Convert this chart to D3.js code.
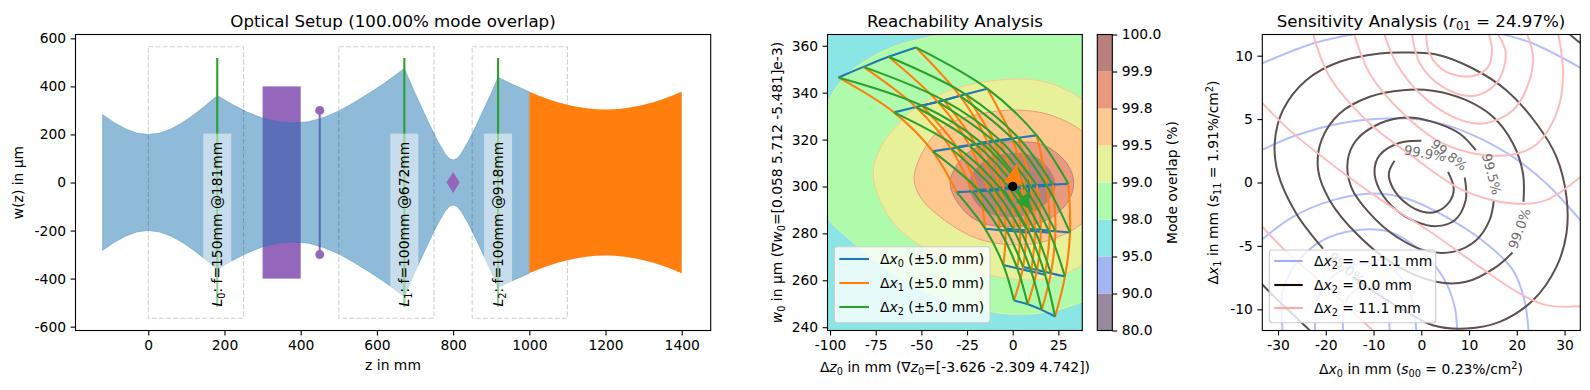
<!DOCTYPE html>
<html>
<head>
<meta charset="utf-8">
<script src="https://cdn.jsdelivr.net/npm/d3@7"></script>
<style>
  html, body { margin: 0; padding: 0; background: #fff; }
  text { font-family: "DejaVu Sans", sans-serif; white-space: pre; }
</style>
</head>
<body>
<svg id="chart" width="1590" height="390"></svg>
<script>
// ---- optical setup: beam radius w(z), upper edge (the lower edge mirrors it)
const beamZ = [-120, -90, -60, -30, 0, 30, 60, 90, 120, 150, 181, 220, 260, 300, 340, 380, 420, 460, 500, 540, 580, 620, 672,
    700, 720, 740, 760, 780, 790, 800, 810, 820, 840, 860, 880, 900, 918, 950, 1000];
const beamW = [283, 250, 224, 206, 200, 206, 224, 250, 283, 320, 362, 326, 293, 268, 253, 248, 253, 271, 298, 333, 372, 414, 475,
    373, 304, 236, 172, 118, 100, 94, 100, 118, 172, 236, 304, 373, 438, 413, 378];
const targetZ = [1000, 1050, 1100, 1150, 1200, 1250, 1300, 1350, 1400];
const targetW = [378, 347, 324, 309, 304, 309, 324, 347, 378];
const lensZ = [181, 672, 918];
const lensF = ["150", "100", "100"];
const lensHalfHeight = 518;
const rangeStart = [0, 500, 850];
const rangeEnd = [250, 750, 1100];
const rangeHalfHeight = 565;
const crystalZ = [300, 400];
const crystalW = 400;
const apertureZ = 450;
const apertureW = 300;
const waistMarkZ = 800;
const setupXTicks = [0, 200, 400, 600, 800, 1000, 1200, 1400];
const setupYTicks = [-600, -400, -200, 0, 200, 400, 600];

// ---- reachability: overlap regions [dz0, w0]
const region98 = [[-39.8, 364.6], [-67.1, 359.0], [-89.0, 348.8], [-100.0, 337.7], [-109.1, 312.7], [-101.4, 287.1], [-89.0, 277.2],
    [-70.8, 265.8], [-41.6, 253.1], [-12.4, 246.7], [2.2, 245.5], [20.4, 246.7], [38.1, 250.9], [66.0, 263.0], [84.3, 294.2],
    [75.2, 329.8], [47.8, 365.3], [2.2, 370.9]];
const region99 = [[-76.3, 307.0], [-70.8, 318.7], [-63.5, 325.8], [-56.2, 331.7], [-34.3, 341.1], [0.4, 345.8], [20.4, 344.0], [38.1, 336.9],
    [56.9, 319.8], [62.4, 299.9], [55.1, 280.0], [38.1, 266.6], [20.4, 260.9], [2.2, 260.4], [-16.1, 263.0], [-43.4, 271.5],
    [-63.5, 282.9], [-73.5, 295.7]];
const region995 = [[-54.0, 304.2], [-45.2, 319.8], [-34.3, 326.9], [-16.1, 331.2], [2.2, 332.6], [20.4, 330.5], [38.1, 323.4],
    [49.6, 311.3], [49.6, 295.7], [38.1, 284.3], [20.4, 277.2], [2.2, 275.1], [-19.7, 277.9], [-39.8, 287.1], [-50.7, 295.7]];
const region998 = [[-34.3, 301.5], [-27.0, 312.7], [-16.1, 317.7], [4.0, 319.0], [16.8, 317.7], [29.6, 309.9], [33.4, 301.3],
    [29.6, 292.8], [18.6, 285.7], [2.2, 282.9], [-16.1, 284.3], [-27.0, 290.0]];
const region999 = [[-23.9, 301.3], [-17.9, 309.2], [-6.9, 313.4], [4.0, 314.1], [15.0, 311.3], [23.2, 301.3], [19.5, 294.2],
    [11.3, 289.3], [0.4, 287.1], [-12.4, 288.6], [-19.7, 292.8]];

// lattice of reachable settings, one row per (dx1 step + dx2 step)
const rowStart = [0, 0, 0, 0, 1, 2, 3];
const rowZ = [
    [-95.4, -81.7, -68.0, -53.0],
    [-63.4, -51.4, -39.4, -27.4, -15.5],
    [-40.6, -30.6, -20.4, -10.3, -0.1, 9.9],
    [-25.9, -17.2, -8.6, 0, 8.4, 17.1, 25.7],
    [-11.9, -3.9, 4.1, 12.2, 20.2, 28.2],
    [-3.5, 4.1, 11.7, 19.3, 27.0],
    [0.7, 8.2, 15.9, 23.2]
];
const rowW = [
    [346.5, 351.0, 355.3, 359.3],
    [331.9, 334.2, 336.4, 339.0, 341.4],
    [315.6, 316.8, 318.1, 319.2, 320.2, 321.2],
    [298.5, 298.8, 299.1, 299.4, 299.6, 299.9, 300.2],
    [282.6, 282.0, 281.5, 280.9, 280.3, 279.8],
    [266.8, 265.4, 264.1, 262.7, 261.3],
    [251.4, 249.8, 247.4, 244.5]
];
// shift of a node by (dx2 step - dx1 step), the lattice is not quite flat
const rowSkewW = [-0.9, -0.6, -0.3, 0, 0.3, 0.6, 0.9];
const rowSkewZ = [-4.8, -3.2, -1.6, 0, 1.6, 3.2, 4.8];
const orangeTip = [2.2, 309.2];
const greenTip = [10.4, 290.0];
const blueStem = [[8.9, 303], [8.9, 295]];
const reachXTicks = [-100, -75, -50, -25, 0, 25];
const reachYTicks = [240, 260, 280, 300, 320, 340, 360];
const overlapLevels = ["80.0", "90.0", "95.0", "98.0", "99.0", "99.5", "99.8", "99.9", "100.0"];
const overlapColors = ["#98899f", "#a3b5f2", "#89e6e5", "#aefbab", "#e6f199", "#fdc98f", "#e99a7e", "#b97f7c"];

// ---- sensitivity: contour lines [dx0, dx1]
const black999 = [[-5.6, 1.71], [-6.8, 0.71], [-5.9, -0.47], [-3.1, -1.66], [0.3, -2.31], [3.1, -2.31], [5.9, -1.52], [6.8, -0.47], [5.6, 0.84]];
const black998 = [[0, 3.29], [-4.5, 3.13], [-8.7, 2.16], [-9.8, 0.97], [-8.7, -0.60], [-5.2, -2.18], [-1.0, -3.10], [3.1, -3.44], [7.0, -2.97], [9.3, -1.39], [9.1, 0.39]];
const black995 = [[11.4, 2.55], [8.0, 3.86], [2.4, 4.78], [-3.1, 5.13], [-8.7, 4.65], [-13.6, 3.34], [-15.4, 1.76], [-14.7, -0.34], [-10.8, -2.44],
    [-5.2, -4.28], [1.0, -5.39], [6.6, -5.47], [11.5, -4.55], [14.3, -2.97], [15.2, -1.39]];
const black990 = [[21.4, -1.52], [21.3, 0.71], [19.2, 3.08], [15.0, 5.18], [9.4, 6.49], [2.4, 7.23], [-3.8, 7.28], [-10.8, 6.76], [-17.1, 5.44],
    [-20.9, 3.34], [-21.6, 0.97], [-19.2, -1.39], [-13.6, -4.02], [-5.9, -6.39], [3.1, -7.83], [9.4, -7.83], [15.7, -6.65], [19.1, -5.52]];
const black980 = [[-20.6, -5.21], [-26.2, -2.44], [-30.0, 0.71], [-30.7, 3.08], [-29.0, 5.70], [-24.1, 8.07], [-17.1, 9.52], [-8.7, 10.17], [-3.1, 10.25],
    [3.8, 10.04], [10.8, 8.99], [17.8, 7.28], [24.1, 4.65], [28.3, 2.02], [30.4, -1.13], [30.4, -4.02], [28.3, -6.65], [23.4, -9.28], [16.4, -10.99],
    [9.4, -11.51], [2.4, -11.25], [-3.1, -10.20], [-9.4, -8.75], [-14.3, -7.44]];
const blackCornerTop = [[30.4, 11.88], [31.1, 11.67], [33.2, 11.04], [34.2, 10.83]];
const blackCornerBottom = [[-34.2, -7.70], [-29.7, -9.41], [-23.4, -11.65], [-22.7, -11.91]];
const blueLines = [
    [[-34.2, 9.25], [-22.7, 10.96], [-13.6, 11.75], [1.7, 13.07], [16.4, 11.75], [23.4, 10.96], [34.2, 8.86]],
    [[-34.2, 2.42], [-26.2, 3.73], [-17.1, 4.65], [-7.3, 5.05], [1.7, 4.86], [10.1, 3.86], [19.2, 2.02], [26.2, -0.08], [34.2, -3.36]],
    [[-34.2, -4.76], [-26.9, -2.71], [-18.5, -1.39], [-10.1, -0.87], [-3.1, -1.26], [5.2, -2.71], [13.6, -4.81], [19.2, -6.91], [21.6, -9.28], [22.5, -11.91]],
    [[-29.0, -11.91], [-29.0, -8.49], [-26.2, -6.39], [-20.6, -4.55], [-13.6, -3.76], [-6.6, -3.89], [-0.3, -5.34], [4.5, -7.44], [7.0, -9.81], [7.5, -11.91]],
    [[-22.3, -11.91], [-21.3, -8.75], [-17.8, -7.18], [-12.2, -6.39], [-5.9, -6.91], [-2.4, -8.75], [-1.0, -11.91]],
    [[-16.4, -11.91], [-15.7, -9.28], [-12.2, -8.23], [-8.0, -9.02], [-6.6, -11.91]]
];
const redLines = [
    [[1.0, 11.88], [1.7, 10.17], [5.2, 8.73], [10.8, 8.39], [14.0, 9.12], [14.8, 10.44], [14.0, 11.88]],
    [[-2.0, 11.88], [-0.3, 9.38], [4.5, 7.54], [10.8, 6.83], [15.7, 7.81], [17.7, 10.17], [15.7, 11.88]],
    [[-7.9, 11.88], [-5.2, 9.38], [-0.3, 7.02], [6.6, 5.18], [12.9, 4.65], [19.2, 5.70], [22.7, 8.07], [23.4, 9.91], [22.0, 11.88]],
    [[-14.2, 11.88], [-10.8, 8.60], [-3.8, 5.44], [4.5, 3.08], [15.7, 2.10], [23.4, 2.81], [28.3, 5.44], [29.7, 8.60], [28.6, 11.88]],
    [[-22.8, 11.88], [-19.2, 8.33], [-10.8, 4.65], [-1.7, 2.02], [8.7, -0.60], [19.2, -1.66], [26.2, -1.39], [34.2, 0.71]],
    [[-34.2, 6.62], [-27.6, 4.13], [-17.1, 0.97], [-7.3, -1.66], [2.4, -4.02], [12.2, -6.65], [20.6, -8.75], [26.2, -9.67], [34.2, -9.75]],
    [[-34.2, -3.10], [-28.6, -5.34], [-20.6, -7.97], [-11.0, -11.38], [-9.4, -11.91]]
];
const contourLabels = ["98.0%", "99.5%", "99.0%", "99.8%", "99.9%"];
const contourLabelX = [-15.7, 14.7, 20.6, 5.8, 0.7];
const contourLabelY = [-6.78, 0.66, -3.63, 2.16, 2.29];
const contourLabelAngle = [40, 75, -70, 38, 10];
const sensXTicks = [-30, -20, -10, 0, 10, 20, 30];
const sensYTicks = [-10, -5, 0, 5, 10];

const FONT = 13.89, TITLE = 16.67;
const TOP = 34.5, BOTTOM = 330.5;
const svg = d3.select("#chart");

function richText(sel, parts) {
    let shift = 0;
    parts.forEach(function([str, kind]) {
        const want = kind === "sub" ? 3.2 : kind === "sup" ? -5 : 0;
        const ts = sel.append("tspan").text(str).attr("dy", want - shift);
        shift = want;
        if (kind === "sub" || kind === "sup") ts.attr("font-size", "0.7em");
        if (kind === "i") ts.attr("font-style", "italic");
    });
    return sel;
}

function setupAxes(id, left, right, xDomain, yDomain, xTicks, yTicks) {
    const x = d3.scaleLinear().domain(xDomain).range([left, right]);
    const y = d3.scaleLinear().domain(yDomain).range([BOTTOM, TOP]);
    svg.append("clipPath").attr("id", id).append("rect")
        .attr("x", left).attr("y", TOP).attr("width", right - left).attr("height", BOTTOM - TOP);
    const plot = svg.append("g").attr("clip-path", "url(#" + id + ")");
    return {x, y, plot, left, right, xTicks, yTicks};
}

function finishAxes(a) {
    svg.append("rect").attr("x", a.left).attr("y", TOP).attr("width", a.right - a.left).attr("height", BOTTOM - TOP)
        .attr("fill", "none").attr("stroke", "#000").attr("stroke-width", 1.1);
    const bottom = svg.append("g").attr("transform", "translate(0," + BOTTOM + ")")
        .call(d3.axisBottom(a.x).tickValues(a.xTicks).tickFormat(String).tickSize(4.9).tickPadding(4.5));
    const leftAxis = svg.append("g").attr("transform", "translate(" + a.left + ",0)")
        .call(d3.axisLeft(a.y).tickValues(a.yTicks).tickFormat(String).tickSize(4.9).tickPadding(4.5));
    [bottom, leftAxis].forEach(function(g) {
        g.select(".domain").remove();
        g.selectAll("text").attr("font-size", FONT).attr("font-family", "DejaVu Sans").attr("fill", "#000");
        g.selectAll("line").attr("stroke", "#000").attr("stroke-width", 1.1);
    });
}

function label(x, y, parts, size, rotate) {
    const t = svg.append("text").attr("text-anchor", "middle").attr("font-size", size).attr("fill", "#000")
        .attr("transform", "translate(" + x + "," + y + ")" + (rotate ? " rotate(" + rotate + ")" : ""));
    return richText(t, parts);
}

function drawLegend(a, box, lineX, rows) {
    a.legend = svg.append("g");
    a.legend.append("rect").attr("x", box[0]).attr("y", box[1]).attr("width", box[2]).attr("height", box[3])
        .attr("rx", 3).attr("fill", "#fff").attr("fill-opacity", 0.8).attr("stroke", "#ccc").attr("stroke-width", 1.1);
    rows.forEach(function(row) {
        a.legend.append("line").attr("x1", lineX[0]).attr("x2", lineX[1]).attr("y1", row.y).attr("y2", row.y)
            .attr("stroke", row.color).attr("stroke-width", 2.1);
        const t = a.legend.append("text").attr("x", lineX[2]).attr("y", row.y + 5).attr("font-size", FONT).attr("fill", "#000");
        richText(t, row.parts);
    });
}

// ---------- optical setup
function drawSetup() {
    const a = setupAxes("clip-setup", 75.5, 710.7, [-191, 1476], [-616, 616], setupXTicks, setupYTicks);
    const {x, y, plot} = a;

    plot.append("rect").attr("x", x(crystalZ[0])).attr("width", x(crystalZ[1]) - x(crystalZ[0]))
        .attr("y", y(crystalW)).attr("height", y(-crystalW) - y(crystalW)).attr("fill", "#9467bd");
    plot.append("line").attr("x1", x(apertureZ)).attr("x2", x(apertureZ)).attr("y1", y(apertureW)).attr("y2", y(-apertureW))
        .attr("stroke", "#9467bd").attr("stroke-width", 2.1);
    plot.selectAll("circle.ap").data([apertureW, -apertureW]).enter().append("circle")
        .attr("cx", x(apertureZ)).attr("cy", d => y(d)).attr("r", 4.5).attr("fill", "#9467bd");

    const beamArea = d3.area().x((d, i) => x(beamZ[i])).y0((d, i) => y(-d)).y1(d => y(d));
    plot.append("path").attr("d", beamArea(beamW)).attr("fill", "#1f77b4").attr("fill-opacity", 0.5)
        .attr("stroke", "#1f77b4").attr("stroke-opacity", 0.3).attr("stroke-width", 1);

    rangeStart.forEach(function(z, i) {
        plot.append("rect").attr("x", x(z)).attr("width", x(rangeEnd[i]) - x(z))
            .attr("y", y(rangeHalfHeight)).attr("height", y(-rangeHalfHeight) - y(rangeHalfHeight))
            .attr("fill", "none").attr("stroke", "#000").attr("stroke-opacity", 0.18).attr("stroke-width", 1.1)
            .attr("stroke-dasharray", "5,2.2");
    });

    const targetArea = d3.area().x((d, i) => x(targetZ[i])).y0((d, i) => y(-d)).y1(d => y(d)).curve(d3.curveCatmullRom);
    plot.append("path").attr("d", targetArea(targetW)).attr("fill", "#ff7f0e");

    plot.append("path").attr("d", d3.symbol().type(d3.symbolDiamond).size(150)())
        .attr("transform", "translate(" + x(waistMarkZ) + "," + y(0) + ") scale(1,0.92)").attr("fill", "#9467bd");

    lensZ.forEach(function(z, i) {
        plot.append("line").attr("x1", x(z)).attr("x2", x(z)).attr("y1", y(lensHalfHeight)).attr("y2", y(-lensHalfHeight))
            .attr("stroke", "#2ca02c").attr("stroke-width", 2.1);
        const g = svg.append("g").attr("transform", "translate(" + (x(z) + 4.5) + "," + y(-516) + ") rotate(-90)");
        const box = g.append("rect");
        const t = g.append("text").attr("font-size", FONT).attr("fill", "#000");
        richText(t, [["L", "i"], [String(i), "sub"], [": f=" + lensF[i] + "mm @" + z + "mm"]]);
        const bb = t.node().getBBox();
        box.attr("x", bb.x - 8).attr("width", bb.width + 16).attr("y", -18.5).attr("height", 28)
            .attr("fill", "#fff").attr("fill-opacity", 0.5);
    });

    finishAxes(a);
    label(393, 27, [["Optical Setup (100.00% mode overlap)"]], TITLE);
    label(393, 370, [["z in mm"]], FONT);
    label(23, 182.5, [["w(z) in µm"]], FONT, -90);
}

// ---------- reachability
function latticeNode(i, j, k) {
    const r = j + k, c = i + k - rowStart[j + k];
    return [rowZ[r][c] + rowSkewZ[k - j + 3], rowW[r][c] + rowSkewW[k - j + 3]];
}

function drawReach() {
    const a = setupAxes("clip-reach", 827.5, 1082.3, [-101.4, 38.1], [238.6, 364.8], reachXTicks, reachYTicks);
    const {x, y, plot} = a;

    plot.append("rect").attr("x", a.left).attr("y", TOP).attr("width", a.right - a.left).attr("height", BOTTOM - TOP)
        .attr("fill", overlapColors[2]);
    const closed = d3.line().x(d => x(d[0])).y(d => y(d[1])).curve(d3.curveCatmullRomClosed);
    [[region98, 3], [region99, 4], [region995, 5], [region998, 6], [region999, 7]].forEach(function([region, c]) {
        plot.append("path").attr("d", closed(region)).attr("fill", overlapColors[c])
            .attr("stroke", overlapColors[Math.min(c + 1, 7)]).attr("stroke-width", 1);
    });

    const strand = d3.line().x(d => x(d[0])).y(d => y(d[1])).curve(d3.curveCatmullRom);
    const steps = d3.range(4);
    const drawStrand = (pts, color) => plot.append("path").attr("d", strand(pts)).attr("fill", "none")
        .attr("stroke", color).attr("stroke-width", 2.1);
    steps.forEach(j => steps.forEach(k => drawStrand(steps.map(i => latticeNode(i, j, k)), "#1f77b4")));
    drawStrand(blueStem, "#1f77b4");
    steps.forEach(i => steps.forEach(k => drawStrand(steps.map(j => latticeNode(i, j, k)), "#ff7f0e")));
    steps.forEach(i => steps.forEach(j => drawStrand(steps.map(k => latticeNode(i, j, k)), "#2ca02c")));

    // gradient arrows out of the nominal point
    [[orangeTip, "#ff7f0e", 19, 19], [greenTip, "#2ca02c", 16, 15]].forEach(function([tip, color, len, wide]) {
        const x0 = x(0), y0 = y(300), x1 = x(tip[0]), y1 = y(tip[1]);
        const n = Math.hypot(x1 - x0, y1 - y0), ux = (x1 - x0) / n, uy = (y1 - y0) / n;
        plot.append("line").attr("x1", x0).attr("y1", y0).attr("x2", x1).attr("y2", y1)
            .attr("stroke", color).attr("stroke-width", 3);
        const bx = x1 - ux * len, by = y1 - uy * len;
        plot.append("polygon").attr("fill", color).attr("points", [
            [x1, y1], [bx - uy * wide / 2, by + ux * wide / 2], [bx + uy * wide / 2, by - ux * wide / 2]
        ].map(p => p.join(",")).join(" "));
    });
    plot.append("circle").attr("cx", x(0)).attr("cy", y(300)).attr("r", 4.7).attr("fill", "#000");

    drawLegend(a, [834.3, 246.7, 155.7, 76], [839.3, 869, 880], [
        {y: 259, color: "#1f77b4", parts: [["Δ"], ["x", "i"], ["0", "sub"], [" (±5.0 mm)"]]},
        {y: 283, color: "#ff7f0e", parts: [["Δ"], ["x", "i"], ["1", "sub"], [" (±5.0 mm)"]]},
        {y: 307, color: "#2ca02c", parts: [["Δ"], ["x", "i"], ["2", "sub"], [" (±5.0 mm)"]]}
    ]);
    finishAxes(a);
    label(955, 27, [["Reachability Analysis"]], TITLE);
    label(955, 372, [["Δ"], ["z", "i"], ["0", "sub"], [" in mm (∇"], ["z", "i"], ["0", "sub"], ["=[-3.626 -2.309 4.742])"]], FONT);
    label(782, 182.5, [["w", "i"], ["0", "sub"], [" in µm (∇"], ["w", "i"], ["0", "sub"], ["=[0.058 5.712 -5.481]e-3)"]], FONT, -90);

    // colorbar
    const bar = d3.scalePoint().domain(overlapLevels).range([BOTTOM, TOP]);
    overlapColors.forEach(function(color, i) {
        const y0 = bar(overlapLevels[i + 1]), y1 = bar(overlapLevels[i]);
        svg.append("rect").attr("x", 1097.3).attr("width", 15).attr("y", y0).attr("height", y1 - y0).attr("fill", color);
    });
    svg.append("rect").attr("x", 1097.3).attr("y", TOP).attr("width", 15).attr("height", BOTTOM - TOP)
        .attr("fill", "none").attr("stroke", "#000").attr("stroke-width", 1.1);
    const barAxis = svg.append("g").attr("transform", "translate(1112.3,0)")
        .call(d3.axisRight(bar).tickSize(4.9).tickPadding(4.5));
    barAxis.select(".domain").remove();
    barAxis.selectAll("text").attr("font-size", FONT).attr("font-family", "DejaVu Sans").attr("fill", "#000");
    barAxis.selectAll("line").attr("stroke", "#000").attr("stroke-width", 1.1);
    label(1177, 182.5, [["Mode overlap (%)"]], FONT, -90);
}

// ---------- sensitivity
function drawSens() {
    const a = setupAxes("clip-sens", 1262.3, 1580.3, [-33.3, 33.3], [-11.67, 11.67], sensXTicks, sensYTicks);
    const {x, y, plot} = a;
    const curve = d3.line().x(d => x(d[0])).y(d => y(d[1])).curve(d3.curveCatmullRom);
    const drawCurve = (pts, color) => plot.append("path").attr("d", curve(pts)).attr("fill", "none")
        .attr("stroke", color).attr("stroke-width", 2);

    blueLines.forEach(pts => drawCurve(pts, "#b4bfff"));
    [black980, black990, black995, black998, black999, blackCornerTop, blackCornerBottom].forEach(pts => drawCurve(pts, "#5c5050"));
    redLines.forEach(pts => drawCurve(pts, "#ffbcbc"));

    contourLabels.forEach(function(str, i) {
        plot.append("text").attr("text-anchor", "middle").attr("dominant-baseline", "central")
            .attr("font-size", FONT - 0.7).attr("fill", "#6e6e6e")
            .attr("transform", "translate(" + x(contourLabelX[i]) + "," + y(contourLabelY[i]) + ") rotate(" + contourLabelAngle[i] + ")")
            .text(str);
    });

    drawLegend(a, [1269.3, 250, 166.4, 72.7], [1274.3, 1302.7, 1314], [
        {y: 261, color: "#9cafff", parts: [["Δ"], ["x", "i"], ["2", "sub"], [" = −11.1 mm"]]},
        {y: 285, color: "#170808", parts: [["Δ"], ["x", "i"], ["2", "sub"], [" = 0.0 mm"]]},
        {y: 308, color: "#ffaaaa", parts: [["Δ"], ["x", "i"], ["2", "sub"], [" = 11.1 mm"]]}
    ]);
    finishAxes(a);
    label(1421, 27, [["Sensitivity Analysis ("], ["r", "i"], ["01", "sub"], [" = 24.97%)"]], TITLE);
    label(1421, 374, [["Δ"], ["x", "i"], ["0", "sub"], [" in mm ("], ["s", "i"], ["00", "sub"], [" = 0.23%/cm"], ["2", "sup"], [")"]], FONT);
    label(1218, 182.5, [["Δ"], ["x", "i"], ["1", "sub"], [" in mm ("], ["s", "i"], ["11", "sub"], [" = 1.91%/cm"], ["2", "sup"], [")"]], FONT, -90);
}

drawSetup();
drawReach();
drawSens();
</script>
</body>
</html>
